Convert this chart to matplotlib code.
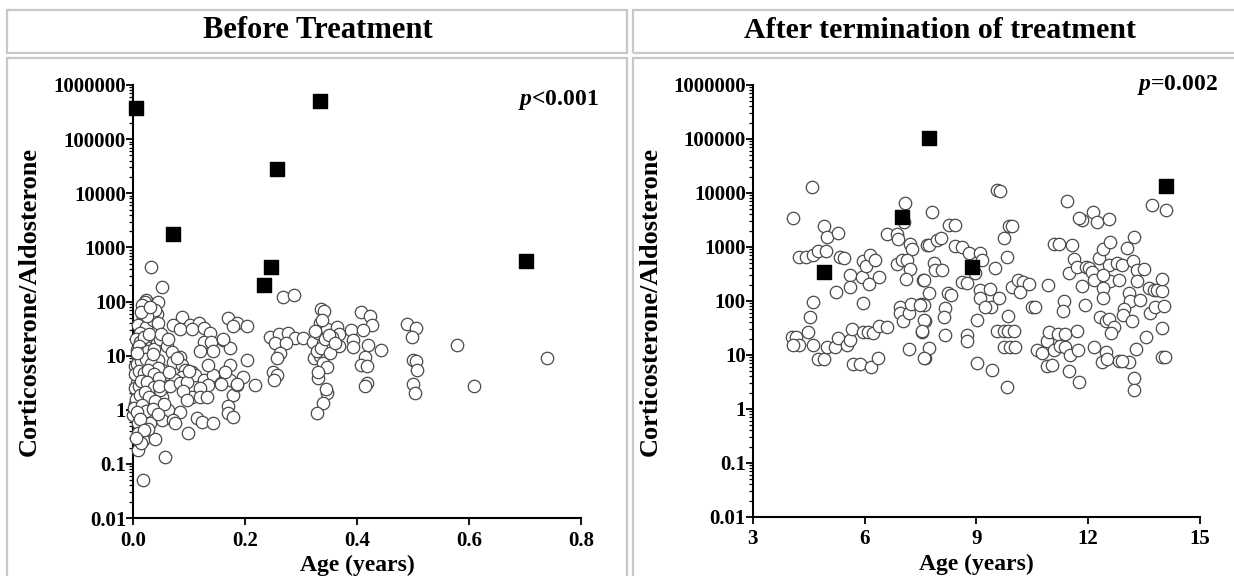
import matplotlib
matplotlib.use("Agg")
import matplotlib.pyplot as plt
from matplotlib.patches import Rectangle
from matplotlib.ticker import FixedLocator, FuncFormatter, LogLocator, NullFormatter

plt.rcParams['font.family'] = ['Liberation Serif', 'DejaVu Serif']
plt.rcParams['font.weight'] = 'bold'
plt.rcParams['mathtext.fontset'] = 'custom'
plt.rcParams['mathtext.it'] = 'Liberation Serif:italic:bold'
plt.rcParams['mathtext.rm'] = 'Liberation Serif:bold'

W, H = 1234, 576

# ---- data: before treatment (age in years, ratio) ----
before_age = [
    0.032, 0.051, 0.024, 0.021, 0.045, 0.016, 0.042, 0.018, 0.0095, 0.042, 0.024, 0.0125, 0.042,
    0.021, 0.0066, 0.0095, 0.03, 0.045, 0.021, 0.0036, 0.036, 0.051, 0.0155, 0.03, 0.042, 0.0066,
    0.021, 0.057, 0.0066, 0.033, 0.051, 0.018, 0.0036, 0.03, 0.045, 0.063, 0.0125, 0.0005, 0.021,
    0.036, 0.051, 0.0095, 0.03, 0.0095, 0.018, 0.039, 0.0095, 0.018, 0.058,
    0.005, 0.012, 0.02, 0.028, 0.035, 0.04, 0.025, 0.015, 0.03, 0.045, 0.01, 0.017, 0.026, 0.038,
    0.048, 0.008, 0.014, 0.024, 0.033, 0.044, 0.004, 0.011, 0.019, 0.027, 0.037, 0.047, 0.003,
    0.01, 0.015, 0.025, 0.038, 0.048, 0.006, 0.013, 0.022, 0.028, 0.04, 0.055, 0.002, 0.016,
    0.024, 0.036, 0.045, 0.007, 0.012, 0.027, 0.02, 0.015, 0.006, 0.046, 0.035, 0.008, 0.05,
    0.087, 0.071, 0.102, 0.117, 0.084, 0.105, 0.126, 0.1375, 0.127, 0.139, 0.12, 0.143, 0.161,
    0.173, 0.17, 0.185, 0.204, 0.179, 0.06, 0.069, 0.084, 0.072, 0.087, 0.093, 0.105, 0.11, 0.087,
    0.075, 0.066, 0.084, 0.096, 0.126, 0.143, 0.134, 0.134, 0.12, 0.105, 0.12, 0.133, 0.158, 0.173,
    0.179, 0.185, 0.197, 0.203, 0.218, 0.17, 0.17, 0.179, 0.114, 0.123, 0.143, 0.084, 0.072, 0.075,
    0.099, 0.161, 0.173, 0.164, 0.185, 0.158, 0.063, 0.078, 0.065, 0.09, 0.1, 0.097,
    0.267, 0.2875, 0.245, 0.26, 0.277, 0.289, 0.304, 0.254, 0.274, 0.2625, 0.257, 0.25, 0.257,
    0.252, 0.322,
    0.335, 0.341, 0.334, 0.331, 0.346, 0.364, 0.367, 0.355, 0.34, 0.346, 0.367, 0.323, 0.334,
    0.339, 0.347, 0.331, 0.347, 0.339, 0.329, 0.389, 0.393, 0.393, 0.408, 0.423, 0.426, 0.411,
    0.42, 0.443, 0.414, 0.408, 0.417, 0.417, 0.414, 0.489, 0.505, 0.498, 0.50, 0.505, 0.507, 0.50,
    0.504, 0.579, 0.609, 0.739, 0.328, 0.336, 0.342, 0.35, 0.325, 0.338, 0.352, 0.33, 0.345, 0.36,
]
before_ratio = [
    440, 182, 107, 100, 100, 87, 60, 52, 37, 30, 34, 26, 17,
    14.8, 12.7, 9.5, 9.5, 8.3, 6.7, 6.3, 5.9, 5.4, 4.4, 4.1, 3.5, 3.1,
    2.7, 2.7, 2.0, 2.0, 1.75, 1.6, 1.3, 1.24, 1.15, 1.0, 1.0, 0.8, 0.74,
    0.69, 0.65, 0.56, 0.56, 0.37, 0.28, 0.29, 0.18, 0.05, 0.135,
    20, 18, 22, 25, 45, 70, 55, 65, 80, 40, 15, 11, 12, 13,
    20, 7, 8, 8.5, 7, 6, 4.5, 5.2, 4.8, 5.5, 4.6, 3.9, 2.5,
    2.8, 3.4, 3.3, 2.6, 2.3, 1.6, 1.9, 2.1, 1.7, 1.45, 1.3, 1.1, 1.2,
    0.95, 1.05, 0.85, 0.9, 0.68, 0.45, 0.42, 0.24, 0.3, 2.8, 10.5, 11, 25,
    51, 37, 37, 40, 31, 31, 32, 26, 18, 18, 12, 12, 19.5,
    13.7, 49, 40, 35, 35, 14.8, 11.8, 9.5, 7.7, 6.7, 5.5, 5.0, 4.4, 4.1,
    3.5, 2.7, 3.1, 3.3, 3.5, 4.4, 6.7, 2.9, 2.5, 1.75, 1.75, 1.75, 3.1, 3.5,
    1.87, 2.9, 4.0, 8.3, 2.9, 1.15, 0.87, 0.74, 0.69, 0.6, 0.56, 0.92, 0.65, 0.56,
    0.37, 20, 6.7, 5.0, 3.0, 3.0, 20, 9, 5, 2.2, 5.2, 1.5,
    123, 131, 22, 25, 26, 21, 21, 17, 17, 11, 8.9, 5.0, 4.4,
    3.5, 18,
    72, 68, 40, 26, 31, 34, 25, 22, 17, 16, 15, 9.2, 10,
    7.2, 6.1, 3.8, 2.0, 1.35, 0.87, 30, 19.6, 14.7, 63, 54, 37, 30,
    16, 12.7, 9.6, 6.7, 6.3, 3.1, 2.8, 38, 32, 22, 8.3, 8.1, 5.4, 3.0,
    2.0, 16, 2.75, 9.2, 12, 14, 20, 24, 28, 45, 11, 5, 2.4, 17,
]
before_sq_age = [0.005, 0.072, 0.234, 0.246, 0.257, 0.334, 0.701]
before_sq_ratio = [380000, 1780, 203, 430, 27900, 496000, 570]

# ---- data: after termination of treatment ----
after_age = [
    4.07, 4.58, 4.23, 4.43, 4.61, 4.76, 4.96, 4.92, 4.99, 5.30, 5.35, 5.44, 4.63, 4.54, 4.05, 4.15,
    4.25, 4.09, 4.49, 4.61, 4.76, 4.90, 4.99, 5.21, 5.24, 5.30, 5.52, 5.60, 5.66, 5.61, 5.61, 5.68,
    5.88, 5.95, 5.97, 5.93, 6.04, 6.15, 6.29, 6.13, 6.38, 5.97, 6.08, 6.22, 6.40, 6.60, 6.17, 6.35,
    6.60, 6.87, 6.91, 7.09, 7.06, 7.21, 7.27, 6.87, 7.00, 7.14, 7.21, 7.12, 6.94, 6.96, 7.03, 7.18,
    7.24, 7.18, 7.51, 7.58, 7.63, 7.55, 7.63, 7.67,
    7.81, 7.72, 7.94, 8.05, 8.26, 8.44, 8.44, 8.62, 8.79, 9.09, 9.15, 8.97, 8.62, 8.75, 7.86, 7.90,
    8.08, 7.59, 7.72, 7.59, 7.50, 8.25, 8.32, 8.17, 8.12, 7.59, 7.54, 8.17, 8.75, 8.75, 7.72, 7.59,
    9.02, 9.42, 9.82, 9.11, 9.11, 9.36, 9.38, 9.60, 9.24, 9.02, 9.51, 9.55, 9.63, 9.73, 9.87, 9.96,
    9.82, 9.73, 9.86, 9.55, 9.73, 9.86, 10.0, 9.91, 10.04, 9.95, 10.13, 10.26, 10.17, 10.40, 10.49,
    10.58, 10.91, 10.62, 10.75, 10.89, 10.94, 11.07, 10.89, 11.02, 11.20, 11.38, 11.25, 11.38,
    11.52, 11.70, 11.74, 11.48, 11.75, 11.84, 11.07, 11.21, 11.57, 11.42, 11.34, 11.33, 11.48,
    11.61, 11.70, 11.84, 11.92, 11.75, 12.14, 12.24, 12.57, 11.93, 12.02, 12.11, 12.15, 12.28,
    12.40, 12.58, 12.55, 12.59, 12.40, 12.41, 12.41, 12.33, 12.47, 12.55, 12.69, 12.62, 12.15,
    12.47, 12.38, 12.51, 12.82, 13.09, 12.92, 13.27, 13.23, 13.24, 12.77, 12.91, 12.82, 13.03,
    13.23, 13.19, 13.31, 13.49, 13.31, 13.09, 13.13, 13.40, 12.96, 12.94, 13.18, 13.63, 13.76,
    13.85, 13.98, 13.98, 13.67, 13.80, 14.03, 13.99, 13.54, 13.98, 14.07, 13.72, 14.09,
]
after_ratio = [
    3490, 12700, 662, 650, 700, 850, 850, 2480, 1550, 1780, 660, 620, 94, 50, 22, 22,
    15, 15, 27, 15, 8.4, 8.4, 14, 14, 145, 21, 15, 19, 30, 300, 178, 6.7,
    6.7, 91, 540, 280, 440, 700, 580, 210, 280, 27, 27, 26, 35, 33, 6.1, 8.7,
    1740, 1740, 1410, 6600, 2950, 1150, 910, 485, 580, 580, 390, 260, 76, 61, 43, 61,
    88, 13, 87, 245, 43, 27, 8.7, 1100,
    4520, 1100, 1350, 1440, 2560, 2560, 1050, 1010, 760, 785, 575, 325, 228, 218, 500, 375,
    375, 245, 138, 85, 85, 138, 128, 73, 51, 45, 28, 23.5, 23.5, 17.8, 13.3, 8.7,
    7.1, 5.3, 2.6, 158, 112, 170, 79, 112, 79, 45, 400, 11350, 11000, 1440, 2400, 2450,
    660, 14.3, 52, 28, 28, 28, 28, 13.8, 13.8, 184, 245, 228, 148, 204, 76,
    76, 199, 12.3, 10.8, 17.8, 27, 12.3, 6.3, 6.5, 25, 25, 14.6, 14.3,
    10, 28, 12.3, 5.1, 3.1, 186, 1135, 1120, 1100, 7250, 100, 65, 335,
    590, 430, 3100, 85, 3390, 4520, 2850, 3310, 430, 400, 350, 245, 615,
    910, 1260, 470, 230, 300, 172, 112, 51, 42, 46, 33, 26, 13.8,
    11.5, 7.5, 8.3, 7.8, 7.5, 7.8, 12.7, 3.7, 2.25, 500, 470, 245, 945,
    1550, 540, 375, 385, 230, 138, 98, 105, 72, 55, 42, 172, 158,
    158, 155, 257, 59, 78, 80, 32, 22, 9.0, 9.0, 6000, 4840,
]
after_sq_age = [4.92, 7.0, 7.72, 8.88, 14.09]
after_sq_ratio = [340, 3640, 103000, 431, 13500]

fig = plt.figure(figsize=(W / 100, H / 100), dpi=100)


def fx(px):
    return px / W


def fy(py):
    return 1 - py / H


# panel frames (light grey boxes)
for x0, x1 in [(7, 627), (633, 1240)]:
    fig.patches.append(Rectangle((fx(x0), fy(53)), fx(x1 - x0), (53 - 10) / H,
                                 transform=fig.transFigure, fill=False,
                                 edgecolor='#c8c8c8', lw=1.6))
    fig.patches.append(Rectangle((fx(x0), fy(590)), fx(x1 - x0), (590 - 58) / H,
                                 transform=fig.transFigure, fill=False,
                                 edgecolor='#c8c8c8', lw=1.6, clip_on=False))

fig.text(fx(318), fy(31), 'Before Treatment', ha='center', va='center',
         fontsize=22, fontweight='bold')
fig.text(fx(940), fy(31), 'After termination of treatment', ha='center', va='center',
         fontsize=21.5, fontweight='bold')

ax1 = fig.add_axes([fx(133), fy(518), fx(581 - 133), (518 - 85) / H])
ax2 = fig.add_axes([fx(752.7), fy(517), fx(1200 - 752.7), (517 - 85) / H])


def ylab(v, pos):
    if v >= 1:
        return f"{v:.0f}"
    return f"{v:g}"


panels = [
    (ax1, before_age, before_ratio, before_sq_age, before_sq_ratio,
     (0, 0.8), [0, 0.2, 0.4, 0.6, 0.8], ['0.0', '0.2', '0.4', '0.6', '0.8'], '$p$<0.001'),
    (ax2, after_age, after_ratio, after_sq_age, after_sq_ratio,
     (3, 15), [3, 6, 9, 12, 15], ['3', '6', '9', '12', '15'], '$p$=0.002'),
]

for ax, ages, vals, sq_a, sq_v, xl, xt, xtl, ptxt in panels:
    ax.scatter(ages, vals, s=80, facecolor='white', edgecolor='#4a4a4a',
               linewidth=0.9, zorder=3, clip_on=False)
    ax.scatter(sq_a, sq_v, s=110, marker='s', color='black', zorder=4, clip_on=False)
    ax.set_yscale('log')
    ax.set_ylim(0.01, 1e6)
    ax.set_xlim(*xl)
    ax.set_xticks(xt)
    ax.set_xticklabels(xtl)
    ax.yaxis.set_major_locator(FixedLocator([10.0 ** k for k in range(-2, 7)]))
    ax.yaxis.set_major_formatter(FuncFormatter(ylab))
    ax.yaxis.set_minor_locator(LogLocator(base=10, subs=range(2, 10), numticks=20))
    ax.yaxis.set_minor_formatter(NullFormatter())
    for s in ['top', 'right']:
        ax.spines[s].set_visible(False)
    for s in ['left', 'bottom']:
        ax.spines[s].set_linewidth(1.5)
    ax.tick_params(which='major', direction='out', length=5, width=1.3, labelsize=15)
    ax.tick_params(axis='y', which='major', pad=0)
    ax.tick_params(axis='x', which='major', pad=4)
    ax.tick_params(which='minor', direction='out', length=3, width=0.9)
    for lab in ax.get_xticklabels() + ax.get_yticklabels():
        lab.set_fontweight('bold')
    ax.set_ylabel('Corticosterone/Aldosterone', fontsize=19, fontweight='bold',
                  labelpad=9 if ax is ax1 else 8)
    ax.set_xlabel('Age (years)', fontsize=17, fontweight='bold', labelpad=3)
    ax.text(1.04, 0.965 if ax is ax1 else 1.0, ptxt, transform=ax.transAxes,
            ha='right', va='center', fontsize=17)

fig.savefig('out.png', dpi=100)
